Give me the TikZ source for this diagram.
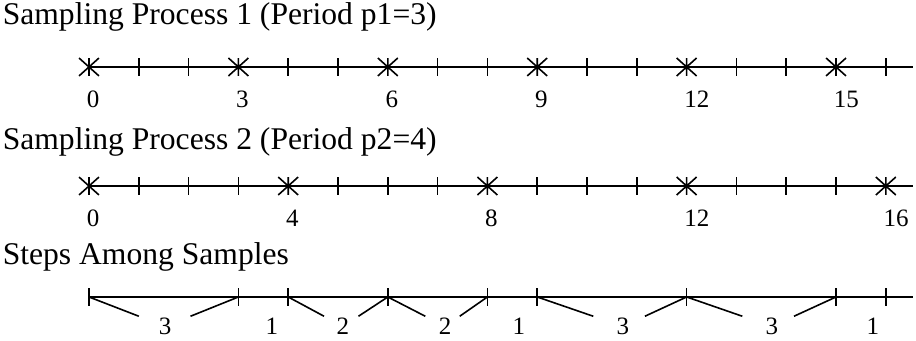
\documentclass[tikz,border=0pt]{standalone}
\usepackage{fontspec}
\setmainfont{Liberation Serif}
\usepackage{tikz}

\tikzset{
  tickmark/.pic={\draw[line width=0.8pt] (0,-0.18) -- (0,0.18);},
  sample star/.pic={\draw[line width=0.8pt] (-0.2,-0.18) -- (0.2,0.18) (-0.2,0.18) -- (0.2,-0.18) (0,-0.18) -- (0,0.18);},
  title/.style={anchor=base west,inner sep=0pt,font=\fontsize{15.8}{18}\selectfont},
  num/.style={anchor=base west,inner sep=0pt,font=\fontsize{12.5}{14}\selectfont},
  steplabel/.style={inner sep=0pt,minimum width=30pt,minimum height=9.4pt,font=\fontsize{12.5}{14}\selectfont}
}

\begin{document}
\begin{tikzpicture}[x=24.9pt,y=24.9pt,line width=0.8pt]
\useasboundingbox (-1.787,1.345) rectangle (16.606,-5.502);

% titles
\node[title] (T1) at (-1.747,0.843) {Sampling Process 1 (Period p1=3)};
\node[title] (T2) at (-1.747,-1.647) {Sampling Process 2 (Period p2=4)};
\node[title] (T3) at (-1.747,-3.976) {Steps Among Samples};

% process 1
\coordinate (A0) at (0,0);
\coordinate (A1) at (16.55,0);
\draw (A0) -- (A1);
\foreach \k in {1,2,4,5,7,8,10,11,13,14,16} \pic at (\k,0) {tickmark};
\foreach \k in {0,3,...,15} {
  \pic at (\k,0) {sample star};
  \node[num] (a\k) at (\k-0.06,-0.82) {\k};
}

% process 2
\coordinate (B0) at (0,-2.39);
\coordinate (B1) at (16.55,-2.39);
\draw (B0) -- (B1);
\foreach \k in {1,2,3,5,6,7,9,10,11,13,14,15} \pic at (\k,-2.39) {tickmark};
\foreach \k in {0,4,...,16} {
  \pic at (\k,-2.39) {sample star};
  \node[num] (b\k) at (\k-0.06,-3.21) {\k};
}

% steps
\coordinate (C0) at (0,-4.618);
\coordinate (C1) at (16.55,-4.618);
\draw (C0) -- (C1);
\foreach \k in {0,3,4,6,8,9,12,15,16} {
  \coordinate (c\k) at (\k,-4.618);
  \pic at (c\k) {tickmark};
}

\node[steplabel] (L1) at (1.53,-5.21) {3};
\node[steplabel] (L2) at (3.67,-5.21) {1};
\node[steplabel] (L3) at (5.10,-5.21) {2};
\node[steplabel] (L4) at (7.15,-5.21) {2};
\node[steplabel] (L5) at (8.63,-5.21) {1};
\node[steplabel] (L6) at (10.72,-5.21) {3};
\node[steplabel] (L7) at (13.71,-5.21) {3};
\node[steplabel] (L8) at (15.74,-5.21) {1};

\draw (c0) -- (L1);
\draw (c3) -- (L1);
\draw (c4) -- (L3);
\draw (c6) -- (L3);
\draw (c6) -- (L4);
\draw (c8) -- (L4);
\draw (c9) -- (L6);
\draw (c12) -- (L6);
\draw (c12) -- (L7);
\draw (c15) -- (L7);
\end{tikzpicture}
\end{document}
